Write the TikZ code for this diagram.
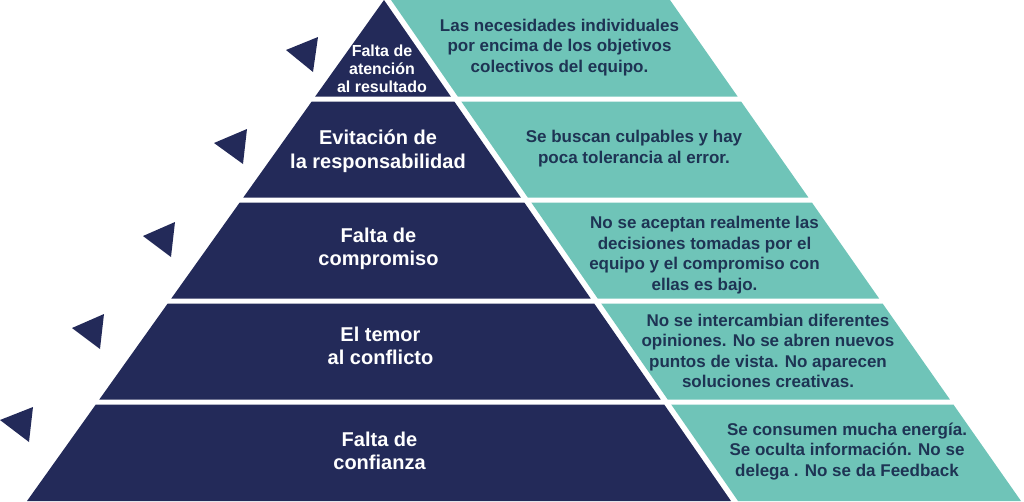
\documentclass[tikz,border=0pt]{standalone}
\usepackage{fontspec}
\setmainfont{Liberation Sans}
\definecolor{pyrnavy}{HTML}{232A59}
\definecolor{pyrteal}{HTML}{6FC4B8}
\definecolor{pyrtext}{HTML}{1E3454}
\begin{document}
\begin{tikzpicture}[x=1pt,y=-1pt,
  navyband/.style={fill=pyrnavy},
  tealband/.style={fill=pyrteal},
  marker/.style={fill=pyrnavy},
  lefttext/.style={text=white,font=\bfseries\fontsize{20}{23.3}\selectfont,align=center,inner sep=0pt},
  righttext/.style={text=pyrtext,font=\bfseries\fontsize{17}{20.6}\selectfont,align=center,inner sep=0pt}]
\useasboundingbox (0,0) rectangle (1024,501);

% band 1
\fill[navyband] (384,0) -- (450.8,96.5) -- (315.2,96.5) -- cycle;
\fill[tealband] (391,0) -- (670,0) -- (737.6,96.5) -- (457.8,96.5) -- cycle;
% band 2
\fill[navyband] (311.7,101.5) -- (454.3,101.5) -- (520.8,197.5) -- (243.3,197.5) -- cycle;
\fill[tealband] (461.3,101.5) -- (741.1,101.5) -- (808.4,197.5) -- (527.8,197.5) -- cycle;
% band 3
\fill[navyband] (239.7,202.5) -- (524.3,202.5) -- (590.7,298.5) -- (171.3,298.5) -- cycle;
\fill[tealband] (531.3,202.5) -- (811.9,202.5) -- (879.1,298.5) -- (597.7,298.5) -- cycle;
% band 4
\fill[navyband] (167.7,303.5) -- (594.2,303.5) -- (660.7,399.5) -- (99.3,399.5) -- cycle;
\fill[tealband] (601.2,303.5) -- (882.6,303.5) -- (949.9,399.5) -- (667.7,399.5) -- cycle;
% band 5
\fill[navyband] (95.8,404.5) -- (664.2,404.5) -- (731,501) -- (27,501) -- cycle;
\fill[tealband] (671.2,404.5) -- (953.4,404.5) -- (1021,501) -- (738,501) -- cycle;

% markers
\fill[marker] (286,50) -- (318,37) -- (313,72) -- cycle;
\fill[marker] (214,143) -- (247,129) -- (243,164) -- cycle;
\fill[marker] (143,236) -- (175,222) -- (171,257) -- cycle;
\fill[marker] (72,328) -- (104,314) -- (100,349) -- cycle;
\fill[marker] (0,420) -- (33,407) -- (29,442) -- cycle;

% left labels
\node[lefttext,font=\bfseries\fontsize{16}{18}\selectfont] (l1) at (382,69) {Falta de\\atención\\al resultado};
\node[lefttext] (l2) at (378,151.3) {Evitación de\\la responsabilidad};
\node[lefttext] (l3) at (378.5,249) {Falta de\\compromiso};
\node[lefttext] (l4) at (380.5,346) {El temor\\al conflicto};
\node[lefttext] (l5) at (379.5,450.5) {Falta de\\confianza};

% right labels
\node[righttext] (r1) at (559.5,47.6) {Las necesidades individuales\\por encima de los objetivos\\colectivos del equipo.};
\node[righttext] (r2) at (634,148.6) {Se buscan culpables y hay\\poca tolerancia al error.};
\node[righttext] (r3) at (704.5,255) {No se aceptan realmente las\\decisiones tomadas por el\\equipo y el compromiso con\\ellas es bajo.};
\node[righttext] (r4) at (768,351) {No se intercambian diferentes\\opiniones. No se abren nuevos\\puntos de vista. No aparecen\\soluciones creativas.};
\node[righttext] (r5) at (847,451.5) {Se consumen mucha energía.\\Se oculta información. No se\\delega . No se da Feedback};
\end{tikzpicture}
\end{document}
